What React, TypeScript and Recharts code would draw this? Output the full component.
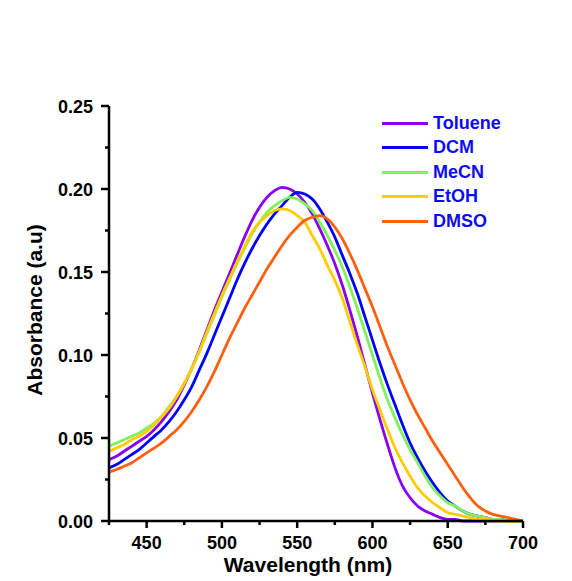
import React from "react";
import { LineChart, Line, XAxis, YAxis } from "recharts";

// absorbance spectra, sampled every 5 nm
const WAVELENGTH = [
  425, 430, 435, 440, 445, 450, 455, 460, 465, 470, 475, 480, 485, 490,
  495, 500, 505, 510, 515, 520, 525, 530, 535, 540, 545, 550, 555, 560,
  565, 570, 575, 580, 585, 590, 595, 600, 605, 610, 615, 620, 625, 630,
  635, 640, 645, 650, 655, 660, 665, 670, 675, 680, 685, 690, 695, 700,
];

const TOLUENE = [
  0.037, 0.039, 0.042, 0.045, 0.048, 0.051, 0.055, 0.060, 0.066, 0.073, 0.082, 0.092, 0.103, 0.115,
  0.127, 0.138, 0.149, 0.160, 0.171, 0.181, 0.189, 0.195, 0.199, 0.201, 0.200, 0.197, 0.192, 0.185,
  0.176, 0.166, 0.155, 0.142, 0.127, 0.111, 0.094, 0.077, 0.061, 0.046, 0.032, 0.021, 0.014, 0.009,
  0.006, 0.004, 0.002, 0.001, 0.001, 0.000, 0.000, 0.000, 0.000, 0.000, 0.000, 0.000, 0.000, 0.000,
];

const DCM = [
  0.032, 0.034, 0.037, 0.040, 0.043, 0.047, 0.051, 0.055, 0.060, 0.066, 0.073, 0.081, 0.091, 0.101,
  0.112, 0.123, 0.134, 0.145, 0.155, 0.164, 0.172, 0.179, 0.185, 0.190, 0.195, 0.198, 0.197, 0.194,
  0.188, 0.180, 0.171, 0.160, 0.149, 0.137, 0.123, 0.109, 0.095, 0.082, 0.070, 0.058, 0.047, 0.038,
  0.030, 0.023, 0.017, 0.012, 0.009, 0.006, 0.004, 0.003, 0.002, 0.001, 0.001, 0.000, 0.000, 0.000,
];

const MECN = [
  0.045, 0.047, 0.049, 0.051, 0.053, 0.056, 0.059, 0.063, 0.069, 0.075, 0.083, 0.092, 0.102, 0.113,
  0.124, 0.135, 0.145, 0.155, 0.164, 0.173, 0.180, 0.186, 0.190, 0.193, 0.195, 0.194, 0.191, 0.187,
  0.180, 0.172, 0.163, 0.153, 0.141, 0.128, 0.114, 0.100, 0.086, 0.073, 0.062, 0.052, 0.043, 0.035,
  0.027, 0.020, 0.015, 0.011, 0.009, 0.006, 0.004, 0.003, 0.002, 0.001, 0.001, 0.000, 0.000, 0.000,
];

const ETOH = [
  0.042, 0.044, 0.046, 0.049, 0.051, 0.054, 0.058, 0.063, 0.068, 0.075, 0.083, 0.092, 0.102, 0.114,
  0.125, 0.136, 0.146, 0.156, 0.165, 0.174, 0.180, 0.184, 0.187, 0.188, 0.187, 0.184, 0.180, 0.172,
  0.164, 0.154, 0.145, 0.134, 0.120, 0.106, 0.093, 0.079, 0.067, 0.055, 0.044, 0.035, 0.027, 0.020,
  0.015, 0.011, 0.008, 0.005, 0.004, 0.003, 0.002, 0.001, 0.001, 0.000, 0.000, 0.000, 0.000, 0.000,
];

const DMSO = [
  0.0295, 0.031, 0.033, 0.035, 0.038, 0.041, 0.044, 0.047, 0.051, 0.055, 0.060, 0.066, 0.073, 0.081,
  0.090, 0.100, 0.110, 0.119, 0.128, 0.136, 0.144, 0.152, 0.159, 0.166, 0.172, 0.177, 0.181, 0.183,
  0.184, 0.182, 0.177, 0.170, 0.161, 0.151, 0.140, 0.129, 0.117, 0.105, 0.094, 0.083, 0.073, 0.064,
  0.056, 0.048, 0.041, 0.034, 0.027, 0.020, 0.014, 0.009, 0.006, 0.004, 0.003, 0.002, 0.001, 0.000,
];

const SERIES = [
  { key: "toluene", name: "Toluene", color: "#8a00f0", values: TOLUENE },
  { key: "dcm", name: "DCM", color: "#0000ff", values: DCM },
  { key: "mecn", name: "MeCN", color: "#80f060", values: MECN },
  { key: "etoh", name: "EtOH", color: "#ffcc00", values: ETOH },
  { key: "dmso", name: "DMSO", color: "#ff6010", values: DMSO },
];

const X_TICKS = [425, 450, 475, 500, 525, 550, 575, 600, 625, 650, 675, 700];
const Y_TICKS = [0, 0.025, 0.05, 0.075, 0.1, 0.125, 0.15, 0.175, 0.2, 0.225, 0.25];

const FONT = '"Liberation Sans", Arial, sans-serif';
const AXIS_W = 2.5;

const data = WAVELENGTH.map((w, i) => {
  const row: Record<string, number> = { wavelength: w };
  SERIES.forEach((s) => (row[s.key] = s.values[i]));
  return row;
});

// ticks drawn by hand so minor ticks get no label and a shorter mark
const XTick = ({ x, y, payload }: any) => {
  const major = payload.value % 50 === 0;
  return (
    <g>
      <line x1={x} x2={x} y1={y} y2={y + (major ? 7 : 4)} stroke="#000" strokeWidth={AXIS_W} />
      {major && (
        <text x={x} y={y + 28} textAnchor="middle" fontFamily={FONT} fontWeight="bold" fontSize={18} fill="#000">
          {payload.value}
        </text>
      )}
    </g>
  );
};

const YTick = ({ x, y, payload }: any) => {
  const major = Math.round(payload.value * 1000) % 50 === 0;
  return (
    <g>
      <line x1={x} x2={x - (major ? 8 : 4)} y1={y} y2={y} stroke="#000" strokeWidth={AXIS_W} />
      {major && (
        <text x={x - 16} y={y + 6.5} textAnchor="end" fontFamily={FONT} fontWeight="bold" fontSize={18} fill="#000">
          {payload.value.toFixed(2)}
        </text>
      )}
    </g>
  );
};

const LegendBox = () => (
  <div
    style={{
      position: "absolute",
      left: 382,
      top: 111,
      fontFamily: FONT,
      fontWeight: "bold",
      fontSize: 18,
      color: "#0c0cf0",
    }}
  >
    {SERIES.map((s) => (
      <div key={s.key} style={{ display: "flex", alignItems: "center", height: 24.5 }}>
        <span style={{ width: 46, height: 3, background: s.color, marginRight: 5, display: "inline-block" }} />
        <span>{s.name}</span>
      </div>
    ))}
  </div>
);

export default function App() {
  return (
    <div style={{ position: "absolute", left: 0, top: 0, width: 572, height: 581, background: "#fff" }}>
      <LineChart width={572} height={581} data={data} margin={{ top: 106, right: 49, bottom: 10, left: 0 }}>
        <XAxis
          dataKey="wavelength"
          type="number"
          domain={[425, 700]}
          ticks={X_TICKS}
          interval={0}
          height={50}
          tickSize={0}
          tickMargin={0}
          tickLine={false}
          tick={<XTick />}
          axisLine={{ stroke: "#000", strokeWidth: AXIS_W }}
          label={(p: any) => (
            <text
              x={p.viewBox.x + p.viewBox.width / 2 - 8}
              y={p.viewBox.y + 51}
              textAnchor="middle"
              fontFamily={FONT}
              fontWeight="bold"
              fontSize={21}
              fill="#000"
            >
              Wavelength (nm)
            </text>
          )}
        />
        <YAxis
          type="number"
          domain={[0, 0.25]}
          ticks={Y_TICKS}
          interval={0}
          width={109}
          tickSize={0}
          tickMargin={0}
          tickLine={false}
          tick={<YTick />}
          axisLine={{ stroke: "#000", strokeWidth: AXIS_W }}
          label={(p: any) => (
            <text
              transform={`translate(41.5, ${p.viewBox.y + p.viewBox.height / 2 - 3.5}) rotate(-90)`}
              textAnchor="middle"
              fontFamily={FONT}
              fontWeight="bold"
              fontSize={21}
              fill="#000"
            >
              Absorbance (a.u)
            </text>
          )}
        />
        {SERIES.map((s) => (
          <Line
            key={s.key}
            dataKey={s.key}
            name={s.name}
            type="monotone"
            stroke={s.color}
            strokeWidth={2.8}
            dot={false}
            isAnimationActive={false}
          />
        ))}
      </LineChart>
      <LegendBox />
    </div>
  );
}
